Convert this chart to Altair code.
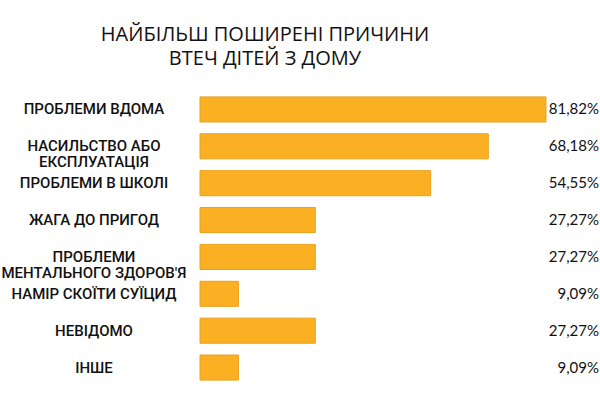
import altair as alt
import pandas as pd

categories = [
    "ПРОБЛЕМИ ВДОМА",
    "НАСИЛЬСТВО АБО\nЕКСПЛУАТАЦІЯ",
    "ПРОБЛЕМИ В ШКОЛІ",
    "ЖАГА ДО ПРИГОД",
    "ПРОБЛЕМИ\nМЕНТАЛЬНОГО ЗДОРОВ'Я",
    "НАМІР СКОЇТИ СУЇЦИД",
    "НЕВІДОМО",
    "ІНШЕ",
]
values = [81.82, 68.18, 54.55, 27.27, 27.27, 9.09, 27.27, 9.09]
order = list(range(len(categories)))

df = pd.DataFrame({"cat": categories, "value": values, "order": order})

W, H = 400, 295

y = alt.Y("order:O", axis=None,
          scale=alt.Scale(paddingInner=0.32, paddingOuter=0.16))

base = alt.Chart(df)

bars = base.mark_bar(color="#FBB023", stroke="#E9A11B", strokeWidth=1).encode(
    y=y,
    x=alt.X("value:Q", axis=None, scale=alt.Scale(domain=[0, 94.6], nice=False)),
)

vals = base.transform_calculate(
    lab="replace(format(datum.value, '.2f'), '.', ',') + '%'"
).mark_text(align="right", baseline="middle", font="Lato", fontSize=15,
            color="#111111").encode(
    y=y,
    x=alt.value(W - 1),
    text="lab:N",
)

cats = base.mark_text(align="center", baseline="middle", font="Roboto",
                      fontWeight=500, fontSize=15, lineHeight=16,
                      lineBreak="\n", color="#111111").encode(
    y=y,
    x=alt.value(-106),
    text="cat:N",
)

chart = alt.layer(bars, vals, cats).properties(
    width=W,
    height=H,
    title=alt.TitleParams(
        text=["НАЙБІЛЬШ ПОШИРЕНІ ПРИЧИНИ", "ВТЕЧ ДІТЕЙ З ДОМУ"],
        font="Open Sans", fontSize=20, fontWeight="normal", color="#111111",
        anchor="middle", dx=-135, offset=22, lineHeight=24,
    ),
    padding={"left": 200, "top": 91, "right": 0, "bottom": 32},
    autosize=alt.AutoSizeParams(type="none"),
    background="white",
).configure_view(stroke=None)

chart.save("out.html", embed_options={"renderer": "svg", "actions": False})
